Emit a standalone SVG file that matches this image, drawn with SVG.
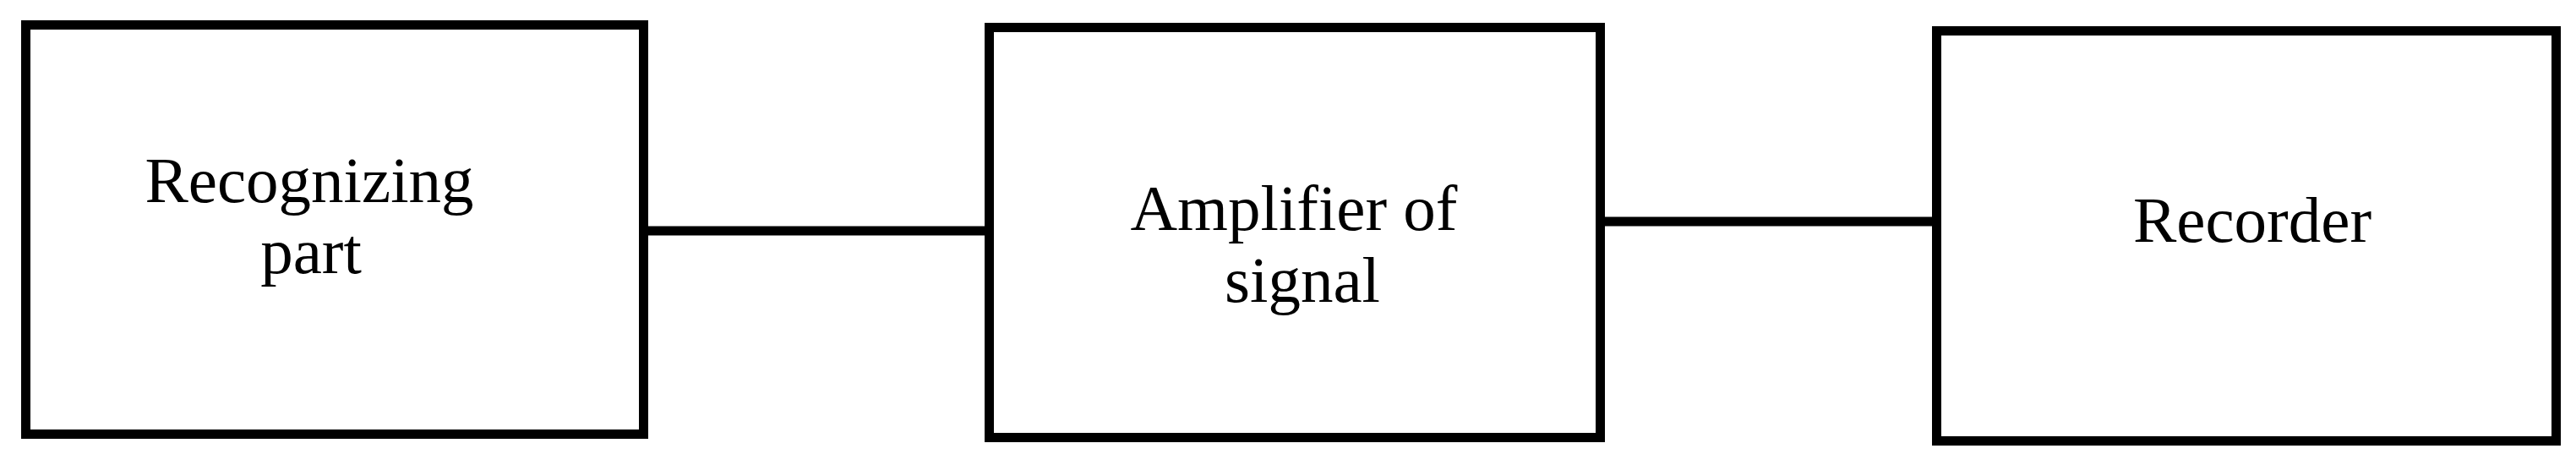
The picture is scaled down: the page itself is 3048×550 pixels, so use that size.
<svg xmlns="http://www.w3.org/2000/svg" width="3048" height="550" viewBox="0 0 3048 550">
<style>
.box{fill:#fff;stroke:#000;stroke-width:11}
.lbl{font-family:"Liberation Serif","Times New Roman",serif;font-size:77px;fill:#000;text-anchor:middle}
.con{stroke:#000;stroke-width:11;fill:none}
</style>
<rect width="3048" height="550" fill="#fff"/>
<g id="connectors">
<line class="con" x1="766" y1="273" x2="1170" y2="273"/>
<line class="con" x1="1893" y1="262" x2="2292" y2="262"/>
</g>
<g id="recognizing">
<rect class="box" x="30.5" y="29.5" width="731" height="484"/>
<text class="lbl" x="366" y="239">Recognizing</text>
<text class="lbl" x="368" y="323">part</text>
</g>
<g id="amplifier">
<rect class="box" x="1170.5" y="32.5" width="723" height="485"/>
<text class="lbl" x="1531" y="272">Amplifier of</text>
<text class="lbl" x="1541" y="357">signal</text>
</g>
<g id="recorder">
<rect class="box" x="2291.5" y="36.5" width="733" height="485"/>
<text class="lbl" x="2665" y="286">Recorder</text>
</g>
</svg>
